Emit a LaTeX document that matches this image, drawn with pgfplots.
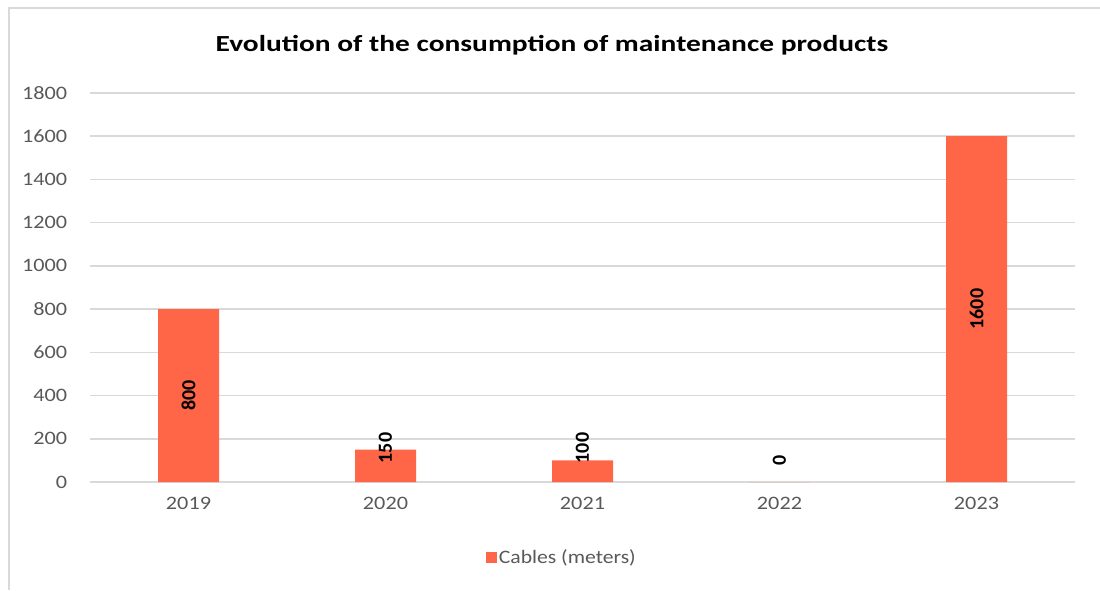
\documentclass[border=0pt]{standalone}
\usepackage{pgfplots}
\pgfplotsset{compat=1.18}
\usepackage{fontspec}
\setmainfont{Carlito}
\definecolor{barc}{HTML}{FF6647}
\definecolor{gridc}{HTML}{D9D9D9}
\definecolor{txt}{HTML}{595959}
\begin{document}
\begin{tikzpicture}[x=1pt,y=1pt]
\useasboundingbox (0,0) rectangle (1100,590);
\draw[gridc, line width=2pt] (9,0) -- (9,582) -- (1100,582);
\node[font=\fontsize{23}{27}\selectfont\bfseries, xscale=1.28, text=black] at (552,545) {Evolution of the consumption of maintenance products};
\begin{axis}[
  at={(90pt,108pt)}, anchor=south west,
  scale only axis, width=985pt, height=389pt,
  xmin=-0.5, xmax=4.5, ymin=0, ymax=1800,
  ytick={0,200,...,1800},
  xtick={0,1,2,3,4},
  xticklabels={2019,2020,2021,2022,2023},
  ymajorgrids, grid style={gridc, line width=1.5pt},
  axis y line*=left, y axis line style={draw=none},
  axis x line*=bottom, x axis line style={gridc, line width=1.5pt, -},
  major tick length=0pt,
  scaled y ticks=false,
  /pgf/number format/1000 sep={},
  /pgf/number format/assume math mode=true,
  tick label style={text=txt, font=\fontsize{19}{22}\selectfont, xscale=1.17},
  yticklabel style={xshift=-16pt},
  xticklabel style={yshift=-12pt},
  legend style={at={(axis description cs:0.479,-0.193)}, anchor=center, draw=none, fill=none, font=\fontsize{19}{22}\selectfont, text=txt},
  legend image code/.code={\fill[barc] (0pt,-5.5pt) rectangle (11pt,5.5pt);},
]
\addplot[ybar, bar width=61pt, fill=barc, draw=none] coordinates {(0,800) (1,150) (2,100) (3,0) (4,1600)};
\addlegendentry{\scalebox{1.14}[1]{Cables (meters)}}
\addplot[forget plot, draw=none, mark=none, nodes near coords, point meta=explicit symbolic,
  nodes near coords style={rotate=90, anchor=center, font=\fontsize{20}{24}\selectfont\bfseries, text=black}]
  coordinates {(0,400)[800] (1,157)[150] (2,157)[100] (3,102)[0] (4,800)[1600]};
\end{axis}
\end{tikzpicture}
\end{document}
